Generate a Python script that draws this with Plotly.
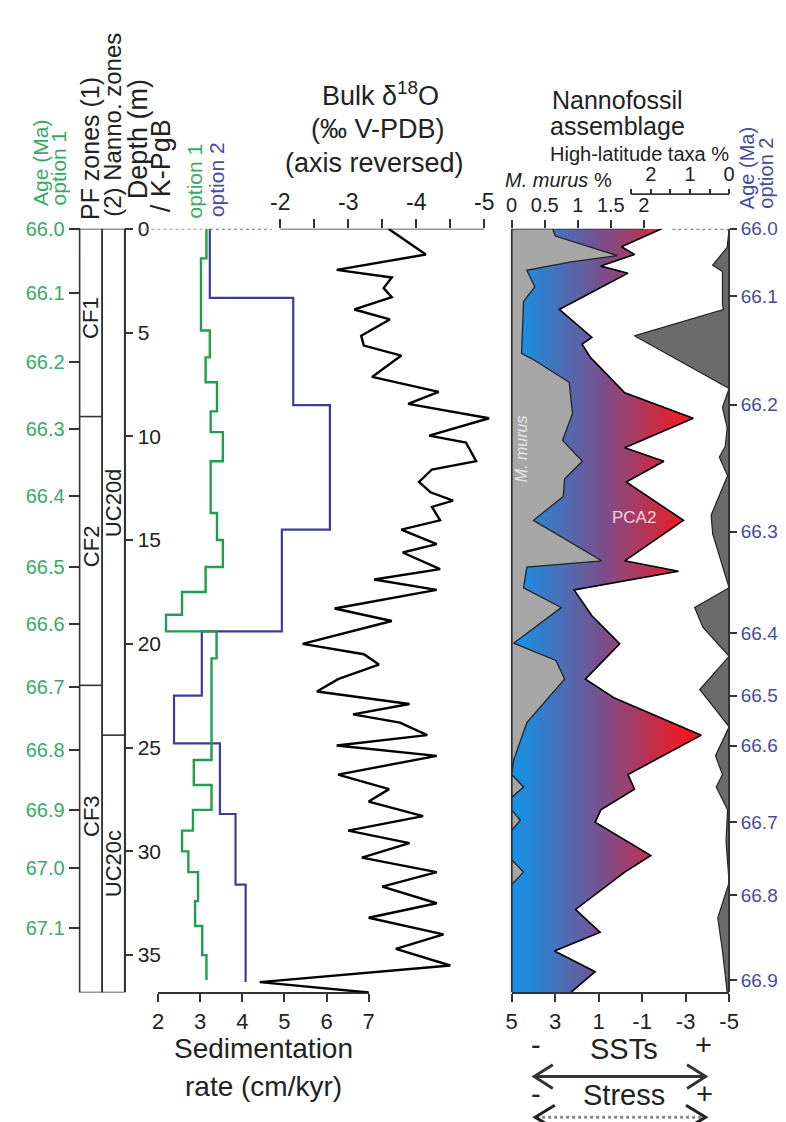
import plotly.graph_objects as go

W, H = 786, 1122
FONT = "Liberation Sans, Arial, sans-serif"
GREEN = "#3aa868"
GREEN_LINE = "#1f9e4f"
PURPLE = "#4a4a9c"
PURPLE_LINE = "#3d3d94"

def px(x):
    return x / W

def py(y):
    return 1 - y / H

Y_TOP, Y_BOT = 211, 983
DEPTH_MAX = 36.8

# ---------------- data ----------------
depth_ticks = [0, 5, 10, 15, 20, 25, 30, 35]

age1_labels = ["66.0", "66.1", "66.2", "66.3", "66.4", "66.5", "66.6", "66.7", "66.8", "66.9", "67.0", "67.1"]
age1_depth = [0, 3.1, 6.4, 9.67, 12.86, 16.3, 19.05, 22.1, 25.1, 28.0, 30.8, 33.7]

age2_labels = ["66.0", "66.1", "66.2", "66.3", "66.4", "66.5", "66.6", "66.7", "66.8", "66.9"]
age2_depth = [0, 3.24, 8.48, 14.6, 19.5, 22.5, 24.9, 28.6, 32.1, 36.2]

sed_ticks = [2, 3, 4, 5, 6, 7]
d18o_ticks = [-2, -3, -4, -5]
d18o_ticklabels = ["-2", "-3", "-4", "-5"]
pca2_ticks = [5, 3, 1, -1, -3, -5]
pca2_ticklabels = ["5", "3", "1", "-1", "-3", "-5"]
murus_ticks = [0, 0.5, 1, 1.5, 2]
murus_ticklabels = ["0", "0.5", "1", "1.5", "2"]
hlat_ticks = [2, 1, 0]

pf_bounds = [0, 9.05, 22.0, DEPTH_MAX]
pf_names = ["CF1", "CF2", "CF3"]
pf_label_depth = [4.3, 15.3, 28.3]
nanno_bounds = [0, 24.4, DEPTH_MAX]
nanno_names = ["UC20d", "UC20c"]
nanno_label_depth = [13.2, 30.6]

# sedimentation rate option 1 (step tops, cm/kyr)
sed1_top = [0, 1.43, 4.9, 6.2, 7.4, 8.8, 9.8, 11.2, 13.7, 15.0, 16.3, 17.5, 18.6, 19.4, 20.7,
            25.6, 26.8, 28.0, 29.0, 30.0, 31.0, 32.4, 33.6, 35.0]
sed1_rate = [3.15, 3.02, 3.23, 3.13, 3.4, 3.25, 3.54, 3.25, 3.4, 3.54, 3.13, 2.57, 2.19, 3.39, 3.27,
             2.85, 3.27, 2.83, 2.57, 2.72, 2.95, 2.88, 3.05, 3.15]
sed1_end = 36.2
# option 2
sed2_top = [0, 3.33, 8.5, 14.5, 19.4, 22.5, 24.8, 28.2, 31.6]
sed2_rate = [3.23, 5.21, 6.08, 4.94, 3.04, 2.38, 3.47, 3.84, 4.08]
sed2_end = 36.3

# bulk d18O
d18o_depth = [0.0, 1.24, 1.98, 2.35, 2.86, 3.3, 3.89, 4.37, 5.16, 5.63, 6.11, 7.14, 7.86, 8.44, 9.13,
              9.97, 10.3, 11.2, 11.6, 12.2, 12.7, 13.1, 13.4, 14.05, 14.5, 15.2, 15.6, 16.4, 16.9,
              17.4, 18.3, 18.9, 20.0, 20.5, 21.0, 21.7, 22.3, 22.9, 23.4, 23.8, 24.4, 24.9, 25.4,
              26.3, 27.0, 27.6, 28.3, 29.0, 29.6, 30.3, 31.0, 31.7, 32.5, 33.2, 34.0, 34.7, 35.5,
              36.3, 36.8]
d18o_val = [-3.59, -4.14, -2.83, -3.64, -3.52, -3.64, -3.09, -3.61, -3.19, -3.23, -3.78, -3.35, -4.33,
            -3.88, -5.07, -4.19, -4.73, -4.88, -4.23, -4.04, -4.21, -4.54, -4.23, -4.35, -3.78, -4.30,
            -3.80, -4.35, -3.38, -4.30, -2.80, -3.64, -2.33, -3.23, -3.45, -2.85, -2.54, -3.90, -3.07,
            -3.76, -4.16, -2.83, -4.30, -2.85, -3.6, -3.3, -4.1, -3.0, -3.9, -3.2, -4.3, -3.5, -4.3,
            -3.3, -4.4, -3.7, -4.5, -1.7, -3.3]

# nannofossil PCA2 (axis reversed)
pca2_depth = [0.0, 0.87, 1.24, 1.8, 2.14, 3.89, 5.24, 5.56, 6.2, 7.9, 9.13, 10.55, 11.2, 12.2, 14.05,
              16.0, 16.5, 17.4, 18.65, 20.0, 21.7, 22.6, 24.4, 26.3, 27.0, 28.0, 28.6, 30.2, 31.0,
              32.8, 33.9, 34.8, 35.8, DEPTH_MAX]
pca2_val = [-1.9, -0.05, -0.65, 0.9, -0.35, 2.81, 1.31, 1.76, 1.38, -0.2, -3.35, -0.2, -2.0, -0.27,
            -2.9, -0.2, -2.67, 2.13, 1.31, 0.03, 1.61, 0.3, -3.72, -0.35, -0.65, 0.9, 1.16, -1.4,
            -0.2, 2.06, 0.93, 3.03, 1.16, 2.28]

# M. murus %
murus_depth = [0.0, 0.35, 1.3, 1.6, 2.0, 2.8, 3.5, 6.0, 6.35, 7.4, 8.9, 10.2, 11.2, 12.06, 12.9, 14.05,
               16.0, 16.3, 17.3, 18.25, 19.97, 20.8, 21.7, 22.6, 23.8, 25.6, 26.3, 26.9, 27.4, 28.0,
               28.5, 29.0, 30.4, 31.0, 31.6, DEPTH_MAX]
murus_val = [0.62, 0.66, 1.6, 0.9, 0.23, 0.35, 0.18, 0.15, 0.35, 0.87, 0.92, 0.77, 1.07, 0.80, 0.78,
             0.33, 1.36, 0.23, 0.18, 0.75, 0.03, 0.67, 0.80, 0.55, 0.23, 0.03, 0.0, 0.18, 0.0, 0.0,
             0.13, 0.0, 0.0, 0.18, 0.0, 0.0]

# high-latitude taxa %
hlat_depth = [0.0, 0.9, 1.75, 2.06, 3.6, 3.9, 5.16, 7.7, 8.6, 9.6, 10.5, 11.0, 11.9, 13.8, 14.7, 16.9,
              17.3, 18.25, 19.2, 20.6, 22.2, 24.0, 25.4, 26.3, 26.9, 28.0, 29.5, 31.5, 33.2, 34.8,
              DEPTH_MAX]
hlat_val = [0.0, 0.05, 0.42, 0.17, 0.17, 0.15, 2.42, 0.0, 0.17, 0.05, 0.1, 0.25, 0.04, 0.46, 0.42,
            0.08, 0.0, 0.88, 0.67, 0.0, 0.75, 0.0, 0.35, 0.17, 0.33, 0.04, 0.08, 0.0, 0.29, 0.17, 0.05]

# ---------------- figure ----------------
fig = go.Figure()

fig.add_trace(go.Scatter(x=sed2_rate + [sed2_rate[-1]], y=sed2_top + [sed2_end], mode="lines",
                         line=dict(color=PURPLE_LINE, width=2.2, shape="vh"), xaxis="x", yaxis="y"))
fig.add_trace(go.Scatter(x=sed1_rate + [sed1_rate[-1]], y=sed1_top + [sed1_end], mode="lines",
                         line=dict(color=GREEN_LINE, width=2.4, shape="vh"), xaxis="x", yaxis="y"))

fig.add_trace(go.Scatter(x=[2] * len(age1_depth), y=age1_depth, mode="markers",
                         marker=dict(opacity=0), hoverinfo="skip", xaxis="x", yaxis="y2"))
fig.add_trace(go.Scatter(x=[0] * len(age2_depth), y=age2_depth, mode="markers",
                         marker=dict(opacity=0), hoverinfo="skip", xaxis="x3", yaxis="y3"))

fig.add_trace(go.Scatter(x=d18o_val, y=d18o_depth, mode="lines",
                         line=dict(color="black", width=2.4), xaxis="x2", yaxis="y"))

fig.add_trace(go.Scatter(x=pca2_val + [5, 5], y=pca2_depth + [DEPTH_MAX, 0], mode="lines",
                         fill="toself", line=dict(width=0, color="rgba(0,0,0,0)"),
                         fillgradient=dict(type="horizontal", start=4.6, stop=-2.8,
                                           colorscale=[[0, "#1b8fe2"], [0.5, "#7a4f8c"], [1, "#f01b22"]]),
                         xaxis="x3", yaxis="y"))
fig.add_trace(go.Scatter(x=pca2_val, y=pca2_depth, mode="lines", line=dict(color="black", width=1.6),
                         xaxis="x3", yaxis="y"))

fig.add_trace(go.Scatter(x=murus_val + [0, 0], y=murus_depth + [DEPTH_MAX, 0], mode="lines",
                         fill="toself", fillcolor="#a6a6a6", line=dict(color="#222", width=1.3),
                         xaxis="x4", yaxis="y"))
fig.add_trace(go.Scatter(x=hlat_val + [0, 0], y=hlat_depth + [DEPTH_MAX, 0], mode="lines",
                         fill="toself", fillcolor="#6b6b6b", line=dict(color="#222", width=1.2),
                         xaxis="x5", yaxis="y"))

ydom = [py(Y_BOT), py(Y_TOP)]
tickfont = dict(family=FONT, size=21, color="#222")

MUR_MAX = (730 - 508) / 67.5
HL_MAX = (730 - 508) / 40.0
D18_L = -2 - (240 - 272) / 70.0
D18_R = -5 - (492 - 480) / 70.0

fig.update_layout(
    width=W, height=H, margin=dict(l=0, r=0, t=0, b=0),
    paper_bgcolor="white", plot_bgcolor="rgba(0,0,0,0)", showlegend=False,
    font=dict(family=FONT, color="#222"),
    yaxis=dict(domain=ydom, range=[DEPTH_MAX, 0], anchor="free", position=px(113), side="right",
               tickvals=depth_ticks, ticks="outside", ticklen=8, tickwidth=1.5, tickcolor="#333",
               showline=True, linecolor="#333", linewidth=1.6, showgrid=False, zeroline=False,
               tickfont=tickfont),
    yaxis2=dict(domain=ydom, overlaying="y", range=[DEPTH_MAX, 0], anchor="free", position=px(67),
                side="left", tickvals=age1_depth, ticktext=age1_labels, ticks="outside", ticklen=11,
                tickwidth=1.5, tickcolor="#333", showline=False, showgrid=False, zeroline=False,
                tickfont=dict(family=FONT, size=20, color=GREEN)),
    yaxis3=dict(domain=ydom, overlaying="y", range=[DEPTH_MAX, 0], anchor="free", position=px(730),
                side="right", tickvals=age2_depth, ticktext=age2_labels, ticks="outside", ticklen=7,
                tickwidth=1.5, tickcolor="#333", showline=True, linecolor="#333", linewidth=1.6,
                showgrid=False, zeroline=False, tickfont=dict(family=FONT, size=19, color=PURPLE)),
    xaxis=dict(domain=[px(147), px(362)], range=[2, 7], anchor="y", side="bottom",
               tickvals=sed_ticks, ticks="outside", ticklen=8, tickwidth=1.5, tickcolor="#333",
               showline=True, linecolor="#333", linewidth=1.6, showgrid=False, zeroline=False,
               tickfont=dict(family=FONT, size=22, color="#222")),
    xaxis2=dict(domain=[px(240), px(492)], range=[D18_L, D18_R], anchor="y", side="top",
                tickvals=d18o_ticks, ticktext=d18o_ticklabels, ticks="outside", ticklen=9,
                tickwidth=1.5, tickcolor="#333",
                minor=dict(tickvals=[-2.5, -3.5, -4.5], ticks="outside", ticklen=9, tickwidth=1.5,
                           tickcolor="#333"),
                showline=False, showgrid=False, zeroline=False,
                tickfont=dict(family=FONT, size=23, color="#222")),
    xaxis3=dict(domain=[px(508), px(730)], range=[5, -5], anchor="y", side="bottom",
                tickvals=pca2_ticks, ticktext=pca2_ticklabels, ticks="outside", ticklen=8,
                tickwidth=1.5, tickcolor="#333", showline=True, linecolor="#333", linewidth=1.6,
                showgrid=False, zeroline=False, tickfont=dict(family=FONT, size=22, color="#222")),
    xaxis4=dict(overlaying="x3", range=[0, MUR_MAX], anchor="y", side="top",
                tickvals=murus_ticks, ticktext=murus_ticklabels,
                ticks="outside", ticklen=8, tickwidth=1.5, tickcolor="#333", showline=False,
                showgrid=False, zeroline=False, tickfont=dict(family=FONT, size=20, color="#222")),
    xaxis5=dict(overlaying="x3", range=[HL_MAX, 0], anchor="free", position=py(176), side="top",
                tickvals=hlat_ticks, ticks="outside", ticklen=5, tickwidth=1.5, tickcolor="#333",
                minor=dict(tickvals=[2.5, 1.5, 0.5], ticks="outside", ticklen=5, tickwidth=1.5,
                           tickcolor="#333"),
                showline=False, showgrid=False, zeroline=False,
                tickfont=dict(family=FONT, size=20, color="#222")),
)

shapes = []
LC = "#333"
for x0, x1 in [(67, 90), (90, 113)]:
    shapes.append(dict(type="rect", xref="paper", yref="y", x0=px(x0), x1=px(x1), y0=0, y1=DEPTH_MAX,
                       line=dict(color=LC, width=1.6)))
for b in pf_bounds[1:-1]:
    shapes.append(dict(type="line", xref="paper", yref="y", x0=px(67), x1=px(90), y0=b, y1=b,
                       line=dict(color=LC, width=1.6)))
for b in nanno_bounds[1:-1]:
    shapes.append(dict(type="line", xref="paper", yref="y", x0=px(90), x1=px(113), y0=b, y1=b,
                       line=dict(color=LC, width=1.6)))
shapes.append(dict(type="line", xref="x2", yref="y", x0=-2, x1=-5, y0=0, y1=0,
                   line=dict(color=LC, width=1.6)))
shapes.append(dict(type="line", xref="x4", yref="y", x0=0, x1=2, y0=0, y1=0,
                   line=dict(color=LC, width=1.6)))
shapes.append(dict(type="line", xref="x5", yref="paper", x0=2.5, x1=0, y0=py(176), y1=py(176),
                   line=dict(color=LC, width=1.6)))
shapes.append(dict(type="line", xref="paper", yref="y", x0=px(508), x1=px(508), y0=0, y1=DEPTH_MAX,
                   line=dict(color=LC, width=1.6)))
shapes.append(dict(type="line", xref="paper", yref="y", x0=px(128), x1=px(197), y0=0, y1=0,
                   line=dict(color="#999", width=2, dash="dot")))
shapes.append(dict(type="line", xref="paper", yref="y", x0=px(200), x1=px(263), y0=0, y1=0,
                   line=dict(color="#6a6ab0", width=2, dash="dot")))
shapes.append(dict(type="line", xref="paper", yref="y", x0=px(672), x1=px(730), y0=0, y1=0,
                   line=dict(color="#666", width=2, dash="dot")))

def path_px(points):
    return "M " + " L ".join(f"{px(x):.5f},{py(y):.5f}" for x, y in points)

shapes.append(dict(type="path", xref="paper", yref="paper", path=path_px([(531, 1068), (706, 1068)]),
                   line=dict(color="#333", width=3)))
shapes.append(dict(type="path", xref="paper", yref="paper",
                   path=path_px([(550, 1056), (531, 1068), (550, 1080)]), line=dict(color="#333", width=3)))
shapes.append(dict(type="path", xref="paper", yref="paper",
                   path=path_px([(687, 1056), (706, 1068), (687, 1080)]), line=dict(color="#333", width=3)))
shapes.append(dict(type="path", xref="paper", yref="paper", path=path_px([(533, 1109), (704, 1109)]),
                   line=dict(color="#888", width=3, dash="dot")))
shapes.append(dict(type="path", xref="paper", yref="paper",
                   path=path_px([(552, 1097), (532, 1109), (552, 1121)]), line=dict(color="#222", width=3)))
shapes.append(dict(type="path", xref="paper", yref="paper",
                   path=path_px([(686, 1097), (706, 1109), (686, 1121)]), line=dict(color="#222", width=3)))

fig.update_layout(shapes=shapes)

anns = []
def ann(text, x, y, size, color="#222", angle=0, xanchor="center", yanchor="middle", yref="paper",
        italic=False):
    anns.append(dict(text=text, x=px(x), y=(py(y) if yref == "paper" else y), xref="paper", yref=yref,
                     showarrow=False, textangle=angle, xanchor=xanchor, yanchor=yanchor,
                     font=dict(family=FONT, size=size, color=color,
                               style="italic" if italic else "normal")))

ann("Age (Ma)", 27, 144, 21, GREEN, -90)
ann("option 1", 45, 150, 21, GREEN, -90)
ann("PF zones (1)", 77, 130, 25, "#222", -90)
ann("(2) Nanno. zones", 101, 106, 24, "#222", -90)
ann("Depth (m)", 126, 120, 27, "#222", -90)
ann("/ K-PgB", 150, 147, 27, "#222", -90)
ann("option 1", 184, 163, 21, GREEN, -90)
ann("option 2", 206, 161, 21, PURPLE, -90)

ann("Bulk δ<sup>18</sup>O", 374, 75, 27)
ann("(‰ V-PDB)", 372, 110, 27)
ann("(axis reversed)", 368, 145, 27)

ann("Nannofossil", 616, 81, 25)
ann("assemblage", 616, 107, 25)
ann("High-latitude taxa %", 639, 135, 20)
ann("<i>M. murus</i> %", 556, 162, 20)
ann("Age (Ma)", 749, 150, 20, PURPLE, -90)
ann("option 2", 768, 155, 20, PURPLE, -90)

for name, d in zip(pf_names, pf_label_depth):
    ann(name, 78.5, d, 22, "#222", -90, yref="y")
for name, d in zip(nanno_names, nanno_label_depth):
    ann(name, 101.5, d, 22, "#222", -90, yref="y")

ann("M. murus", 518, 10.6, 16, "#e6e6e6", -90, yref="y", italic=True)
ann("PCA2", 633, 13.9, 17, "#f3d6de", yref="y")

ann("Sedimentation", 255, 1040, 28)
ann("rate (cm/kyr)", 255, 1078, 28)
ann("SSTs", 623, 1040, 29)
ann("-", 533, 1036, 29)
ann("+", 704, 1036, 29)
ann("Stress", 623, 1087, 29)
ann("-", 533, 1086, 29)
ann("+", 705, 1086, 29)

fig.update_layout(annotations=anns)

fig.write_html("out.html")
